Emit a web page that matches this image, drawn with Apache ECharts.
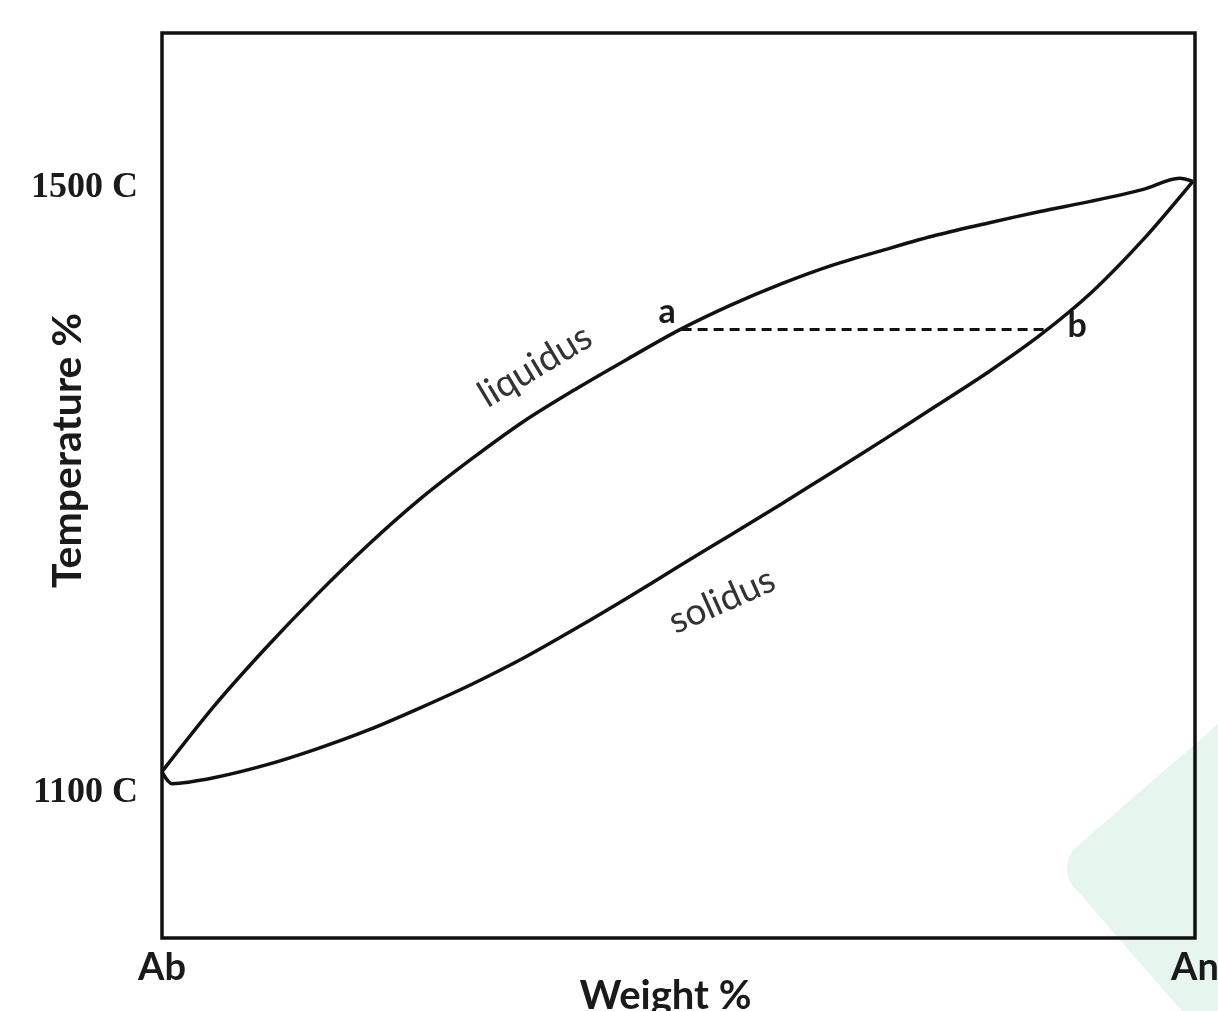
<!DOCTYPE html>
<html>
<head>
<meta charset="utf-8">
<script src="https://cdn.jsdelivr.net/npm/echarts@6/dist/echarts.min.js"></script>
<style>
  html, body { margin: 0; padding: 0; background: #fff; }
  #chart { width: 1218px; height: 1011px; }
</style>
</head>
<body>
<div id="chart"></div>
<script>
// Composition (weight % An) vs temperature
const liquidus = [
  [0, 1113.9], [5, 1156.9], [10, 1195.3], [15, 1230.9], [20, 1264.0],
  [25, 1294.1], [30, 1320.7], [35, 1345.3], [40, 1366.5], [45, 1386.3],
  [50, 1405.5], [55, 1422.0], [60, 1436.4], [65, 1448.8], [70, 1458.9],
  [75, 1468.5], [80, 1476.5], [85, 1484.0], [90, 1490.9], [95, 1498.7],
  [98.5, 1506.0], [99.8, 1504.0]
];
const solidus = [
  [0, 1113.9], [1, 1106.0], [5, 1109.9], [10, 1118.2], [15, 1129.0],
  [20, 1141.5], [25, 1156.1], [30, 1171.7], [35, 1189.0], [40, 1208.3],
  [45, 1228.5], [50, 1249.5], [55, 1270.2], [60, 1291.0], [65, 1312.3],
  [70, 1333.8], [75, 1355.8], [80, 1378.0], [85, 1402.3], [90, 1430.7],
  [95, 1465.6], [99.8, 1504.0]
];
const tieLine = [[50.3, 1406.0], [85.6, 1406.0]];
const yTickValues = [1100, 1500];
const xTickValues = [0, 100];
const xTickLabels = ['Ab', 'An'];
const pointLabels = [
  { name: 'a', value: [48.9, 1417.4] },
  { name: 'b', value: [88.6, 1408.1] }
];
const curveLabels = [
  { name: 'liquidus', value: [36.1, 1382.0], rotate: 31 },
  { name: 'solidus', value: [54.2, 1226.9], rotate: 24 }
];

const chart = echarts.init(document.getElementById('chart'));
const INK = '#111';
chart.setOption({
  animation: false,
  backgroundColor: '#fff',
  graphic: [{
    type: 'rect', silent: true, z: -10,
    x: 1264, y: 880, rotation: Math.PI * 41 / 180,
    shape: { x: -148, y: -148, width: 296, height: 296, r: 28 },
    style: { fill: '#e7f5ef' }
  }],
  grid: {
    left: 162, right: 23, top: 33, bottom: 73,
    containLabel: false, outerBoundsMode: 'none',
    show: true, borderColor: INK, borderWidth: 3.5, backgroundColor: 'transparent'
  },
  xAxis: {
    type: 'value', min: 0, max: 100,
    name: 'Weight %', nameLocation: 'middle', nameGap: 38, nameMoveOverlap: false,
    nameTextStyle: {
      fontFamily: 'Lato', fontWeight: 'bold', fontSize: 40, color: '#1a1a1a',
      padding: [0, 26, 0, 0]
    },
    axisLine: { show: false }, axisTick: { show: false }, splitLine: { show: false },
    axisLabel: {
      customValues: xTickValues, margin: 11,
      fontFamily: 'Lato', fontWeight: 'bold', fontSize: 38, color: '#1a1a1a',
      formatter: v => xTickLabels[xTickValues.indexOf(v)]
    }
  },
  yAxis: {
    type: 'value', min: 1004, max: 1602,
    name: 'Temperature %', nameLocation: 'middle', nameGap: 74, nameRotate: 90, nameMoveOverlap: false,
    nameTextStyle: {
      fontFamily: 'Lato', fontWeight: 'bold', fontSize: 41, color: '#1a1a1a',
      padding: [0, 0, 0, 70]
    },
    axisLine: { show: false }, axisTick: { show: false }, splitLine: { show: false },
    axisLabel: {
      customValues: yTickValues, margin: 24,
      fontFamily: 'Liberation Serif', fontWeight: 'bold', fontSize: 36, color: '#1a1a1a',
      formatter: v => v + ' C'
    }
  },
  series: [
    {
      name: 'liquidus', type: 'line', data: liquidus, smooth: 0.3,
      showSymbol: false, lineStyle: { color: INK, width: 3.5 }, z: 3
    },
    {
      name: 'solidus', type: 'line', data: solidus, smooth: 0.3,
      showSymbol: false, lineStyle: { color: INK, width: 3.5 }, z: 3
    },
    {
      name: 'tie', type: 'line', data: tieLine, showSymbol: false,
      lineStyle: { color: INK, width: 3, type: [10, 6] }, z: 3
    },
    {
      name: 'points', type: 'scatter', symbolSize: 0, data: pointLabels,
      itemStyle: { opacity: 1 },
      label: {
        show: true, position: 'inside', formatter: '{b}',
        fontFamily: 'Lato', fontWeight: 'bold', fontSize: 34, color: '#1a1a1a'
      }
    },
    {
      name: 'curveNames', type: 'scatter', symbolSize: 0,
      itemStyle: { opacity: 1 },
      data: curveLabels.map(d => ({
        name: d.name, value: d.value,
        label: { rotate: d.rotate }
      })),
      label: {
        show: true, position: 'inside', formatter: '{b}',
        fontFamily: 'Lato', fontSize: 37, color: '#333'
      }
    }
  ]
});
</script>
</body>
</html>
